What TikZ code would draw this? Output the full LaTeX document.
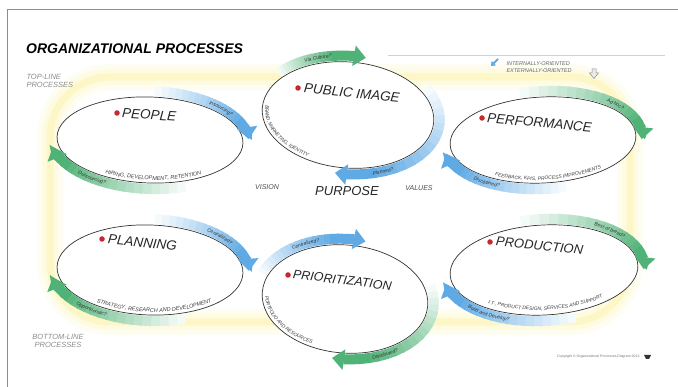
\documentclass[tikz,border=0pt]{standalone}
\usepackage{fontspec}
\setmainfont{Liberation Sans}
\usetikzlibrary{shapes.geometric,arrows.meta,decorations.text}
\definecolor{bandblue}{RGB}{95,170,228}
\definecolor{bandgreen}{RGB}{80,178,118}
\definecolor{ringyellow}{RGB}{250,232,90}
\definecolor{dotred}{RGB}{200,40,45}
\newcommand\bandfont{\fontsize{5}{6}\selectfont\itshape\color{black!80}}
\newcommand\descfont{\fontsize{5.5}{6}\selectfont\itshape\color{black!75}}
\newcommand\smdescfont{\fontsize{5}{6}\selectfont\itshape\color{black!75}}
% gradient band with arrow tip: color, rx, ry, start angle, end angle, width
\newcommand\gradband[6]{%
  \pgfmathsetmacro\gbend{#5-19*sign(#5-(#4))}%
  \pgfmathsetmacro\gbt{#5-20*sign(#5-(#4))}%
  \foreach \k in {0,...,15}{%
    \pgfmathsetmacro\gbs{#4+(\gbend-(#4))*\k/16}%
    \pgfmathsetmacro\gbe{#4+(\gbend-(#4))*(\k+1.3)/16}%
    \pgfmathtruncatemacro\gbp{6+94*\k/15}%
    \draw[line width=#6, color=#1!\gbp!white] (\gbs:#2 and #3) arc[start angle=\gbs, end angle=\gbe, x radius=#2, y radius=#3];
  }%
  \draw[line width=#6, color=#1, -{Triangle[length=12pt,width=20pt]}] (\gbt:#2 and #3) arc[start angle=\gbt, end angle=#5, x radius=#2, y radius=#3];
}
% text along an elliptic arc: rx, ry, a1, a2, raise, format, text
\newcommand\arctext[7]{%
  \path[decorate, decoration={text along path, text={|#6|#7}, text align=center, raise=#5}] (#3:#1 and #2) arc[start angle=#3, end angle=#4, x radius=#1, y radius=#2];
}
\tikzset{
  ringnode/.style={ellipse, draw=black!80, line width=0.7pt, fill=white, inner sep=0pt, transform shape},
  proclabel/.style={font=\fontsize{13.5}{14}\selectfont\itshape, text=black!85, anchor=west, inner sep=0pt},
  reddot/.style={circle, fill=dotred, inner sep=0pt, minimum size=5.5pt},
  sidelabel/.style={font=\fontsize{7.5}{7.5}\selectfont\itshape, text=black!45},
  midlabel/.style={font=\fontsize{7}{8}\selectfont\itshape, text=black!70},
  legendtext/.style={font=\fontsize{5.5}{7}\selectfont\itshape, text=black!60, align=left},
}
\begin{document}
\begin{tikzpicture}[x=1pt,y=1pt]
\useasboundingbox (0,0) rectangle (678,-387);
\fill[white] (0,0) rectangle (678,-387);
\draw[black!45, line width=0.8pt] (7,-387) -- (7,-9) -- (678,-9);

% yellow ring in the background
\draw[line width=26pt, ringyellow!8!white, rounded corners=60pt] (50,-77) rectangle (630,-322);
\draw[line width=16pt, ringyellow!18!white, rounded corners=60pt] (50,-77) rectangle (630,-322);
\draw[line width=7pt, ringyellow!34!white, rounded corners=60pt] (50,-77) rectangle (630,-322);

% title and side labels
\node[font=\fontsize{14}{15}\selectfont\bfseries\itshape, anchor=west, inner sep=0pt] (title) at (26,-49) {ORGANIZATIONAL PROCESSES};
\node[sidelabel, align=left, anchor=west] (topline) at (23,-81) {TOP-LINE\\PROCESSES};
\node[sidelabel, align=center] (bottomline) at (58,-341) {BOTTOM-LINE\\PROCESSES};

% legend
\draw[black!18, line width=0.8pt] (388,-55) -- (665,-55);
\node[legendtext, anchor=west] (legend) at (503,-67.5) {INTERNALLY-ORIENTED\\EXTERNALLY-ORIENTED};
\draw[bandblue, line width=2pt, -{Triangle[length=4pt,width=6pt]}] (498,-59) -- (491,-66);
\draw[black!45, fill=black!8, line width=0.5pt] (592,-69) -- (596,-69) -- (596,-73) -- (598.5,-73) -- (594,-78.5) -- (589.5,-73) -- (592,-73) -- cycle;

% ---------- PEOPLE ----------
\begin{scope}[shift={(150,-140)}, rotate=-2]
  \node[ringnode, minimum width=186pt, minimum height=86pt] (people) {};
  \gradband{bandblue}{99}{49}{88}{5}{10pt}
  \gradband{bandgreen}{99}{49}{292}{192}{10pt}
  \arctext{99}{49}{68}{14}{-1.8pt}{\bandfont}{Insourcing?}
  \arctext{99}{49}{200}{262}{-1.8pt}{\bandfont}{Outsourcing?}
  \arctext{93}{43}{210}{340}{3pt}{\descfont}{HIRING, DEVELOPMENT, RETENTION}
\end{scope}
\node[reddot] (peopledot) at (117,-113) {};
\node[proclabel, rotate=-4] (peoplelbl) at (122,-113) {PEOPLE};

% ---------- PUBLIC IMAGE ----------
\begin{scope}[shift={(348,-115)}, rotate=-5]
  \node[ringnode, minimum width=172pt, minimum height=106pt] (publicimage) {};
  \gradband{bandgreen}{92}{59}{142}{82}{10pt}
  \gradband{bandblue}{92}{59}{35}{-95}{10pt}
  \arctext{92}{59}{142}{86}{-1.8pt}{\bandfont}{Via Culture?}
  \arctext{92}{59}{272}{322}{-1.8pt}{\bandfont}{Planned?}
  \arctext{86}{53}{146}{266}{3pt}{\smdescfont}{BRAND, MARKETING, IDENTITY}
\end{scope}
\node[reddot] (publicdot) at (298,-88) {};
\node[proclabel, rotate=-6] (publiclbl) at (304,-88) {PUBLIC IMAGE};

% ---------- PERFORMANCE ----------
\begin{scope}[shift={(543,-140)}, rotate=3]
  \node[ringnode, minimum width=186pt, minimum height=86pt] (performance) {};
  \gradband{bandgreen}{99}{49}{102}{-5}{10pt}
  \gradband{bandblue}{99}{49}{282}{190}{10pt}
  \arctext{99}{49}{62}{14}{-1.8pt}{\bandfont}{Ad hoc?}
  \arctext{99}{49}{196}{262}{-1.8pt}{\bandfont}{Disciplined?}
  \arctext{93}{43}{208}{340}{3pt}{\smdescfont}{FEEDBACK, KPIS, PROCESS IMPROVEMENTS}
\end{scope}
\node[reddot] (perfdot) at (482,-118) {};
\node[proclabel, rotate=-5] (perflbl) at (487,-118) {PERFORMANCE};

% ---------- PURPOSE ----------
\node[midlabel] (vision) at (267,-187) {VISION};
\node[font=\fontsize{13}{14}\selectfont\itshape, text=black!85] (purpose) at (347,-191) {PURPOSE};
\node[midlabel] (values) at (419,-188) {VALUES};

% ---------- PLANNING ----------
\begin{scope}[shift={(150,-270)}, rotate=-2]
  \node[ringnode, minimum width=186pt, minimum height=90pt] (planning) {};
  \gradband{bandblue}{99}{51}{88}{3}{10pt}
  \gradband{bandgreen}{99}{51}{292}{192}{10pt}
  \arctext{99}{51}{70}{14}{-1.8pt}{\bandfont}{Centralized?}
  \arctext{99}{51}{196}{264}{-1.8pt}{\bandfont}{Opportunistic?}
  \arctext{93}{45}{210}{342}{3pt}{\descfont}{STRATEGY, RESEARCH AND DEVELOPMENT}
\end{scope}
\node[reddot] (plandot) at (102,-239) {};
\node[proclabel, rotate=-6] (planlbl) at (108,-239) {PLANNING};

% ---------- PRIORITIZATION ----------
\begin{scope}[shift={(345,-299)}, rotate=-5]
  \node[ringnode, minimum width=166pt, minimum height=108pt] (prioritization) {};
  \gradband{bandblue}{89}{60}{162}{80}{10pt}
  \gradband{bandgreen}{89}{60}{20}{-95}{10pt}
  \arctext{89}{60}{152}{92}{-1.8pt}{\bandfont}{Centralized?}
  \arctext{89}{60}{276}{328}{-1.8pt}{\bandfont}{Distributed?}
  \arctext{83}{54}{160}{266}{3pt}{\smdescfont}{PORTFOLIO AND RESOURCES}
\end{scope}
\node[reddot] (priodot) at (288,-275) {};
\node[proclabel, font=\fontsize{12.5}{13}\selectfont\itshape, rotate=-7] (priolbl) at (293,-274) {PRIORITIZATION};

% ---------- PRODUCTION ----------
\begin{scope}[shift={(544,-270)}, rotate=3]
  \node[ringnode, minimum width=188pt, minimum height=90pt] (production) {};
  \gradband{bandgreen}{100}{51}{102}{-5}{10pt}
  \gradband{bandblue}{100}{51}{287}{190}{10pt}
  \arctext{100}{51}{72}{14}{-1.8pt}{\bandfont}{Best of breed?}
  \arctext{100}{51}{192}{266}{-1.8pt}{\bandfont}{Build and Develop?}
  \arctext{94}{45}{200}{340}{5pt}{\smdescfont}{I.T., PRODUCT DESIGN, SERVICES AND SUPPORT}
\end{scope}
\node[reddot] (proddot) at (490,-242) {};
\node[proclabel, font=\fontsize{13}{14}\selectfont\itshape, rotate=-6] (prodlbl) at (496,-241) {PRODUCTION};

% credit
\node[font=\fontsize{3.5}{4}\selectfont, text=black!55, anchor=east] (credit) at (643,-357) {Copyright \textcopyright\ Organizational Processes Diagram 2013};
\fill[black!80] (644,-355) -- (651,-355) -- (649,-359) -- (646,-359) -- cycle;
\end{tikzpicture}
\end{document}
